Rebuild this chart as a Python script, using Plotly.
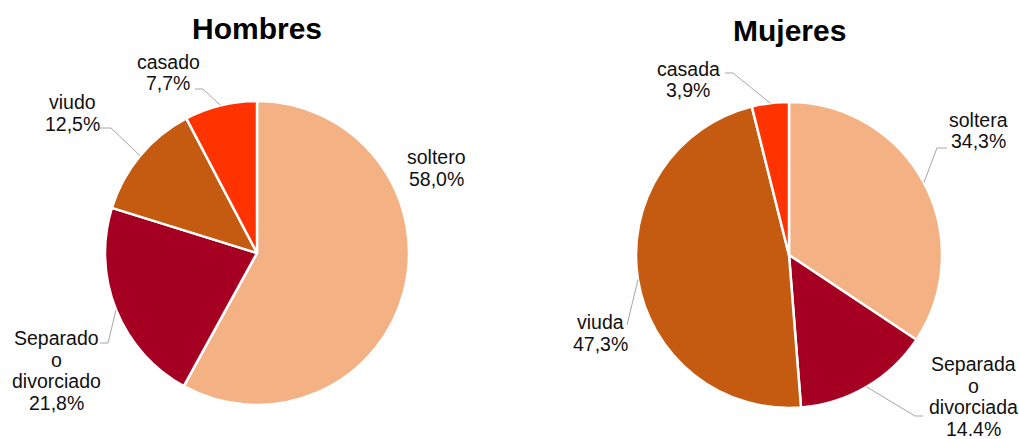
import math
import plotly.graph_objects as go

# ---- data ----
hombres_labels = ["soltero", "Separado<br>o<br>divorciado", "viudo", "casado"]
hombres_values = [58.0, 21.8, 12.5, 7.7]
hombres_text = ["58,0%", "21,8%", "12,5%", "7,7%"]

mujeres_labels = ["soltera", "Separada<br>o<br>divorciada", "viuda", "casada"]
mujeres_values = [34.3, 14.4, 47.3, 3.9]
mujeres_text = ["34,3%", "14.4%", "47,3%", "3,9%"]

colors = ["#F4B183", "#A50021", "#C55A11", "#FF3300"]
titles = ["Hombres", "Mujeres"]

# ---- layout constants (pixels) ----
W, H = 1019, 439
FONT = "Liberation Sans, Arial, sans-serif"


def px(x):
    return x / W


def py(y):
    return 1 - y / H


pies = [
    dict(cx=257, cy=253, r=152, labels=hombres_labels, values=hombres_values,
         text=hombres_text, title_y=28,
         # label centre (x, y of first line), leader elbow, leader end
         lab=[(436, 157, None, None),
              (56, 338, (108, 343), (100, 343)),
              (72, 102, (111, 128), (100, 128)),
              (168, 62, (203, 89), (195, 89))]),
    dict(cx=789, cy=255, r=153, labels=mujeres_labels, values=mujeres_values,
         text=mujeres_text, title_y=30,
         lab=[(978, 120, (937, 148), (947, 148)),
              (973, 364, (915, 416), (923, 416)),
              (600, 322, (627, 325), (627, 325)),
              (688, 69, (733, 73), (725, 73))]),
]

fig = go.Figure()
annotations = []
shapes = []
LINE_H = 21.5

for p, title in zip(pies, titles):
    cx, cy, r = p["cx"], p["cy"], p["r"]
    fig.add_trace(go.Pie(
        labels=[l.replace("<br>", " ") for l in p["labels"]],
        values=p["values"],
        sort=False,
        direction="clockwise",
        rotation=0,
        textinfo="none",
        hoverinfo="label+percent",
        marker=dict(colors=colors, line=dict(color="white", width=2.5)),
        domain=dict(x=[px(cx - r), px(cx + r)], y=[py(cy + r), py(cy - r)]),
        showlegend=False,
    ))
    annotations.append(dict(
        x=px(cx), y=py(p["title_y"]), xref="paper", yref="paper",
        text="<b>" + title + "</b>", showarrow=False,
        font=dict(family=FONT, size=30, color="#000000"),
        xanchor="center", yanchor="middle"))

    total = sum(p["values"])
    cum = 0.0
    for lab, val, txt, (lx, ly, elbow, end) in zip(p["labels"], p["values"], p["text"], p["lab"]):
        mid = (cum + val / 2) / total * 2 * math.pi
        cum += val
        lines = lab.split("<br>") + [txt]
        for i, line in enumerate(lines):
            annotations.append(dict(
                x=px(lx), y=py(ly + i * LINE_H), xref="paper", yref="paper",
                text=line, showarrow=False,
                font=dict(family=FONT, size=19.5, color="#111111"),
                xanchor="center", yanchor="middle"))
        if elbow is not None:
            ex = cx + r * math.sin(mid)
            ey = cy - r * math.cos(mid)
            path = "M {} {} L {} {} L {} {}".format(
                px(ex), py(ey), px(elbow[0]), py(elbow[1]), px(end[0]), py(end[1]))
            shapes.append(dict(type="path", xref="paper", yref="paper", path=path,
                               line=dict(color="#A6A6A6", width=1)))

fig.update_layout(
    width=W, height=H,
    margin=dict(l=0, r=0, t=0, b=0),
    paper_bgcolor="white",
    plot_bgcolor="white",
    annotations=annotations,
    shapes=shapes,
    font=dict(family=FONT),
)

fig.write_html("out.html", config={"displayModeBar": False},
               post_script="document.body.style.margin='0';")
